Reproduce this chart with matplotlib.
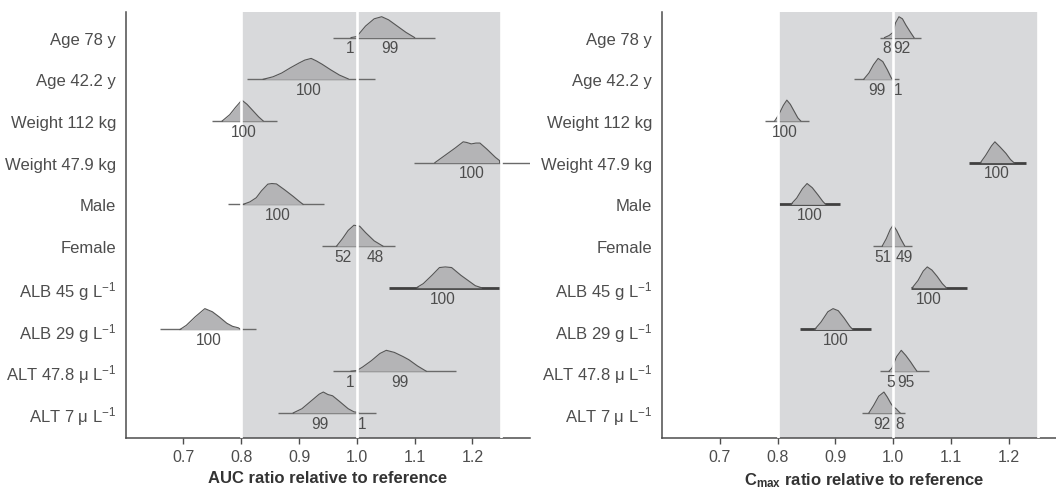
import matplotlib
matplotlib.use("Agg")
import matplotlib.pyplot as plt

plt.rcParams['font.family'] = ['Liberation Sans', 'DejaVu Sans']
plt.rcParams['mathtext.fontset'] = 'custom'
plt.rcParams['mathtext.rm'] = 'Liberation Sans'
plt.rcParams['mathtext.it'] = 'Liberation Sans:italic'
plt.rcParams['mathtext.bf'] = 'Liberation Sans:bold'

# ---------------- data ----------------
row_labels = ["Age 78 y", "Age 42.2 y", "Weight 112 kg", "Weight 47.9 kg", "Male",
              "Female", "ALB 45 g L$^{-1}$", "ALB 29 g L$^{-1}$",
              "ALT 47.8 μ L$^{-1}$", "ALT 7 μ L$^{-1}$"]
x_ticks = [0.7, 0.8, 0.9, 1.0, 1.1, 1.2]
ref_band = (0.8, 1.25)
ref_line = 1.0

# AUC panel
auc_lo = [0.959, 0.810, 0.750, 1.099, 0.777, 0.939, 1.056, 0.659, 0.959, 0.864]
auc_hi = [1.136, 1.032, 0.861, 1.300, 0.943, 1.066, 1.246, 0.825, 1.172, 1.033]
auc_thick = [False, False, False, False, False, False, True, False, False, False]
auc_dx = [
    [0.990, 1.000, 1.002, 1.015, 1.030, 1.043, 1.055, 1.070, 1.085, 1.100],
    [0.838, 0.855, 0.870, 0.885, 0.900, 0.910, 0.921, 0.930, 0.940, 0.955, 0.970, 0.985],
    [0.767, 0.780, 0.790, 0.801, 0.810, 0.820, 0.830, 0.838],
    [1.135, 1.150, 1.170, 1.184, 1.190, 1.198, 1.206, 1.213, 1.225, 1.240, 1.247, 1.2471],
    [0.803, 0.815, 0.826, 0.835, 0.846, 0.853, 0.861, 0.875, 0.890, 0.900, 0.907],
    [0.965, 0.975, 0.985, 0.995, 1.005, 1.015, 1.030, 1.045],
    [1.103, 1.115, 1.130, 1.143, 1.153, 1.164, 1.180, 1.195, 1.205, 1.216],
    [0.694, 0.705, 0.720, 0.737, 0.750, 0.762, 0.775, 0.785, 0.795, 0.799],
    [0.990, 1.000, 1.010, 1.025, 1.040, 1.051, 1.065, 1.080, 1.090, 1.105, 1.120],
    [0.890, 0.905, 0.920, 0.935, 0.942, 0.950, 0.958, 0.970, 0.985, 0.995, 1.000, 1.003],
]
auc_dy = [
    [0.00, 0.05, 0.12, 0.55, 0.90, 1.00, 0.85, 0.55, 0.25, 0.00],
    [0.00, 0.12, 0.30, 0.55, 0.78, 0.92, 1.00, 0.88, 0.72, 0.45, 0.20, 0.02],
    [0.00, 0.30, 0.65, 1.00, 0.80, 0.50, 0.20, 0.00],
    [0.00, 0.30, 0.70, 1.00, 0.97, 0.90, 0.94, 0.94, 0.65, 0.25, 0.10, 0.00],
    [0.00, 0.12, 0.32, 0.65, 0.97, 1.00, 0.98, 0.70, 0.38, 0.15, 0.00],
    [0.00, 0.35, 0.75, 1.00, 0.95, 0.65, 0.25, 0.00],
    [0.00, 0.20, 0.60, 0.97, 1.00, 0.97, 0.60, 0.30, 0.10, 0.00],
    [0.00, 0.20, 0.60, 1.00, 0.85, 0.60, 0.30, 0.15, 0.08, 0.00],
    [0.00, 0.03, 0.20, 0.50, 0.85, 1.00, 0.90, 0.70, 0.55, 0.25, 0.00],
    [0.00, 0.20, 0.55, 0.90, 1.00, 0.88, 0.82, 0.55, 0.20, 0.05, 0.03, 0.00],
]
auc_pct = [["1", "99"], ["100"], ["100"], ["100"], ["100"], ["52", "48"],
           ["100"], ["100"], ["1", "99"], ["99", "1"]]
auc_pct_x = [[0.989, 1.058], [0.917], [0.805], [1.198], [0.864], [0.976, 1.031],
             [1.149], [0.743], [0.989, 1.074], [0.936, 1.010]]

# Cmax panel
cmax_lo = [0.977, 0.932, 0.779, 1.131, 0.802, 0.965, 1.031, 0.838, 0.978, 0.946]
cmax_hi = [1.048, 1.010, 0.854, 1.229, 0.908, 1.033, 1.128, 0.961, 1.062, 1.021]
cmax_thick = [False, False, False, True, True, False, True, True, False, False]
cmax_dx = [
    [0.985, 0.993, 1.000, 1.004, 1.010, 1.016, 1.022, 1.030, 1.036],
    [0.949, 0.958, 0.966, 0.974, 0.982, 0.990, 0.997, 0.999],
    [0.795, 0.802, 0.810, 0.816, 0.822, 0.828, 0.835, 0.840],
    [1.151, 1.160, 1.170, 1.176, 1.185, 1.195, 1.203, 1.209],
    [0.823, 0.833, 0.843, 0.851, 0.860, 0.870, 0.878, 0.883],
    [0.981, 0.988, 0.995, 1.000, 1.006, 1.013, 1.020],
    [1.033, 1.043, 1.052, 1.059, 1.067, 1.076, 1.085, 1.092],
    [0.864, 0.875, 0.887, 0.896, 0.905, 0.915, 0.925, 0.930],
    [0.993, 0.998, 1.000, 1.006, 1.014, 1.022, 1.030, 1.036, 1.041],
    [0.958, 0.966, 0.975, 0.984, 0.990, 0.996, 1.000, 1.005, 1.010, 1.012],
]
cmax_dy = [
    [0.00, 0.10, 0.25, 0.70, 1.00, 0.90, 0.60, 0.25, 0.00],
    [0.00, 0.30, 0.70, 1.00, 0.85, 0.45, 0.05, 0.00],
    [0.00, 0.30, 0.75, 1.00, 0.80, 0.50, 0.15, 0.00],
    [0.00, 0.35, 0.80, 1.00, 0.75, 0.45, 0.15, 0.00],
    [0.00, 0.30, 0.75, 1.00, 0.80, 0.45, 0.15, 0.00],
    [0.00, 0.35, 0.80, 1.00, 0.75, 0.35, 0.00],
    [0.00, 0.35, 0.80, 1.00, 0.85, 0.55, 0.20, 0.00],
    [0.00, 0.35, 0.85, 1.00, 0.90, 0.55, 0.15, 0.00],
    [0.00, 0.15, 0.30, 0.70, 1.00, 0.75, 0.45, 0.20, 0.00],
    [0.00, 0.35, 0.80, 1.00, 0.75, 0.45, 0.30, 0.20, 0.05, 0.00],
]
cmax_pct = [["8", "92"], ["99", "1"], ["100"], ["100"], ["100"], ["51", "49"],
            ["100"], ["100"], ["5", "95"], ["92", "8"]]
cmax_pct_x = [[0.988, 1.015], [0.971, 1.009], [0.812], [1.179], [0.856], [0.982, 1.020],
              [1.062], [0.901], [0.996, 1.022], [0.981, 1.011]]

# ---------------- style ----------------
BAND = "#d8d9db"
FILL = "#b4b4b6"
EDGE = "#555555"
TXT = "#4d4d4d"
AX = "#4d4d4d"
HEIGHT = 0.5

fig = plt.figure(figsize=(10.56, 4.89), dpi=100)
ax1 = fig.add_axes([0.1190, 0.1016, 0.3831, 0.8724])
ax2 = fig.add_axes([0.6269, 0.1016, 0.3831, 0.8724])


def draw(ax, lo, hi, thick, dx, dy, pct, pct_x, xlabel):
    n = len(row_labels)
    ypos = [n - i for i in range(n)]
    ax.axvspan(ref_band[0], ref_band[1], color=BAND, lw=0, zorder=0)
    for i in range(n):
        y0 = ypos[i]
        if thick[i]:
            ax.hlines(y0, lo[i], hi[i], color="#404040", lw=2.0, zorder=2)
        else:
            ax.hlines(y0, lo[i], hi[i], color="#6a6a6a", lw=1.0, zorder=2)
        ys = [y0 + HEIGHT * v for v in dy[i]]
        ax.fill_between(dx[i], y0, ys, color=FILL, lw=0, zorder=3)
        ax.plot(dx[i], ys, color=EDGE, lw=0.8, zorder=4)
        for t, xx in zip(pct[i], pct_x[i]):
            ax.annotate(t, (xx, y0), xytext=(0, -2), textcoords="offset points",
                        ha="center", va="top", fontsize=11.2, color=TXT, zorder=6)
    for xv in (ref_band[0], ref_line, ref_band[1]):
        ax.axvline(xv, color="white", lw=1.9, zorder=5)
    ax.set_xlim(0.6, 1.3)
    ax.set_ylim(0.39, 10.62)
    ax.set_yticks(ypos)
    ax.set_yticklabels(row_labels)
    ax.set_xticks(x_ticks)
    ax.set_xticklabels([f"{v:.1f}" for v in x_ticks])
    ax.tick_params(axis="y", length=0, pad=7, labelsize=12, labelcolor=TXT)
    ax.tick_params(axis="x", length=4, width=1.0, color=AX, pad=4,
                   labelsize=11.5, labelcolor=TXT)
    for s in ("top", "right"):
        ax.spines[s].set_visible(False)
    for s in ("left", "bottom"):
        ax.spines[s].set_color(AX)
        ax.spines[s].set_linewidth(1.1)
    ax.set_xlabel(xlabel, fontsize=12, fontweight="bold", color="#333333", labelpad=4)
    ax.set_facecolor("white")


draw(ax1, auc_lo, auc_hi, auc_thick, auc_dx, auc_dy, auc_pct, auc_pct_x,
     "AUC ratio relative to reference")
draw(ax2, cmax_lo, cmax_hi, cmax_thick, cmax_dx, cmax_dy, cmax_pct, cmax_pct_x,
     r"$\mathbf{C}_{\mathbf{max}}$ ratio relative to reference")

fig.savefig("out.png", dpi=100)
